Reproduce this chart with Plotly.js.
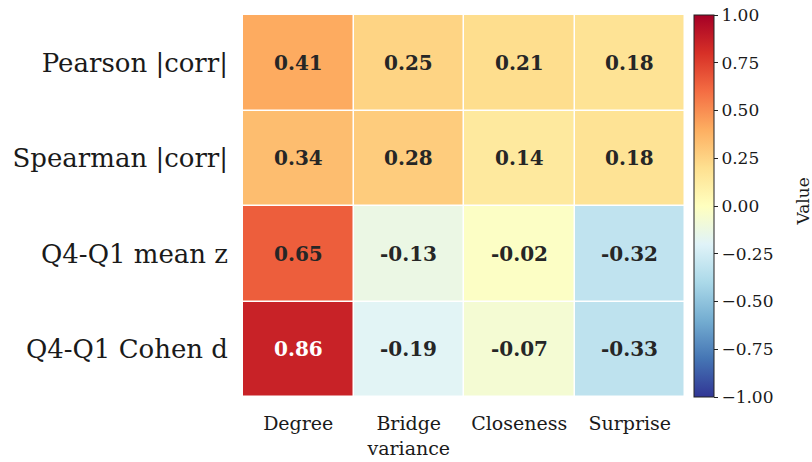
<!DOCTYPE html>
<html>
<head>
<meta charset="utf-8">
<script src="https://cdn.plot.ly/plotly-3.0.1.min.js"></script>
<style>
  html, body { margin: 0; padding: 0; background: #ffffff; }
  #chart { width: 812px; height: 462px; }
</style>
</head>
<body>
<div id="chart"></div>
<script>
// Feature columns and metric rows
const features = ["Degree", "Bridge<br>variance", "Closeness", "Surprise"];
const metrics = ["Pearson |corr|", "Spearman |corr|", "Q4-Q1 mean z", "Q4-Q1 Cohen d"];

// One row per metric, one value per feature
const pearsonAbs  = [0.41, 0.25, 0.21, 0.18];
const spearmanAbs = [0.34, 0.28, 0.14, 0.18];
const meanZDiff   = [0.65, -0.13, -0.02, -0.32];
const cohenD      = [0.86, -0.19, -0.07, -0.33];

const zValues = [pearsonAbs, spearmanAbs, meanZDiff, cohenD];

// Colorbar ticks
const cbTickVals = [-1, -0.75, -0.5, -0.25, 0, 0.25, 0.5, 0.75, 1];
const cbTickText = ["\u22121.00", "\u22120.75", "\u22120.50", "\u22120.25", "0.00", "0.25", "0.50", "0.75", "1.00"];

// Diverging red-yellow-blue scale, blue for negative, red for positive
const rdylbuR = [
  [0.0, "#313695"], [0.1, "#4575b4"], [0.2, "#74add1"], [0.3, "#abd9e9"],
  [0.4, "#e0f3f8"], [0.5, "#ffffbf"], [0.6, "#fee090"], [0.7, "#fdae61"],
  [0.8, "#f46d43"], [0.9, "#d73027"], [1.0, "#a50026"]
];

const serif = "DejaVu Serif, serif";

const heat = {
  type: "heatmap",
  x: features,
  y: metrics,
  z: zValues,
  zmin: -1,
  zmax: 1,
  colorscale: rdylbuR,
  xgap: 1.5,
  ygap: 1.5,
  hoverinfo: "skip",
  colorbar: {
    x: 1.02,
    xanchor: "left",
    xpad: 0,
    y: 0.5,
    yanchor: "middle",
    len: 1,
    lenmode: "fraction",
    ypad: 0,
    thickness: 20,
    thicknessmode: "pixels",
    outlinewidth: 1,
    outlinecolor: "#222222",
    tickvals: cbTickVals,
    ticktext: cbTickText,
    ticks: "outside",
    ticklen: 4,
    tickwidth: 1,
    tickcolor: "#222222",
    tickfont: { family: serif, size: 17, color: "#1a1a1a" }
  }
};

// Value labels on each cell, white on the darkest cells
const annotations = [];
zValues.forEach((row, i) => {
  row.forEach((v, j) => {
    annotations.push({
      x: features[j],
      y: metrics[i],
      xref: "x",
      yref: "y",
      text: "<b>" + v.toFixed(2) + "</b>",
      showarrow: false,
      font: { family: serif, size: 20, color: Math.abs(v) > 0.75 ? "#ffffff" : "#262626" }
    });
  });
});

// Colorbar label, set a little apart from the tick labels
annotations.push({
  x: 1.268,
  y: 0.513,
  xref: "paper",
  yref: "paper",
  xanchor: "center",
  yanchor: "middle",
  text: "Value",
  textangle: -90,
  showarrow: false,
  font: { family: serif, size: 17, color: "#1a1a1a" }
});

const layout = {
  width: 812,
  height: 462,
  margin: { l: 243, r: 127, t: 15, b: 65, pad: 0 },
  paper_bgcolor: "#ffffff",
  plot_bgcolor: "#ffffff",
  xaxis: {
    showgrid: false,
    zeroline: false,
    showline: false,
    ticks: "",
    tickfont: { family: serif, size: 19, color: "#1a1a1a" },
    tickangle: 0,
    ticklabelstandoff: 13
  },
  yaxis: {
    autorange: "reversed",
    showgrid: false,
    zeroline: false,
    showline: false,
    ticks: "",
    tickfont: { family: serif, size: 26, color: "#1a1a1a" },
    ticklabelstandoff: 14
  },
  annotations: annotations,
  showlegend: false
};

Plotly.newPlot("chart", [heat], layout, { displayModeBar: false, staticPlot: true });
</script>
</body>
</html>
